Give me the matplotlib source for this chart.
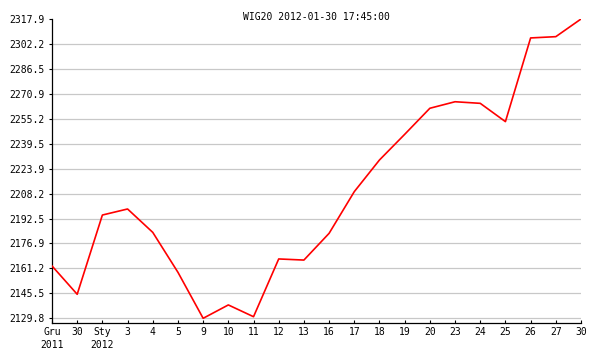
#!/usr/bin/env python3

import matplotlib
matplotlib.use('Agg')
import matplotlib.pyplot as plt
import numpy as np

TITLE = 'WIG20 2012-01-30 17:45:00'

# session days (Dec 2011 - Jan 2012)
day_labels = ['Gru\n2011', '30', 'Sty\n2012', '3', '4', '5', '9', '10', '11', '12', '13',
              '16', '17', '18', '19', '20', '23', '24', '25', '26', '27', '30']
wig20 = [2162.7, 2144.9, 2194.7, 2198.5, 2183.8, 2158.7, 2129.8, 2138.2, 2130.8, 2167.1, 2166.4,
         2183.2, 2209.4, 2229.3, 2245.4, 2261.8, 2265.9, 2264.9, 2253.4, 2306.0, 2306.8, 2317.9]
ytick_labels = ['2129.8', '2145.5', '2161.2', '2176.9', '2192.5', '2208.2', '2223.9',
                '2239.5', '2255.2', '2270.9', '2286.5', '2302.2', '2317.9']

W, H = 593, 361
fig = plt.figure(figsize=(W / 100, H / 100), dpi=100)
ax = fig.add_axes([52 / W, 1 - 323.3 / H, (581 - 52) / W, (323.3 - 19) / H])

x = np.arange(len(wig20))
ymin, ymax = min(wig20), max(wig20)
yticks = np.linspace(ymin, ymax, len(ytick_labels))

for yt in yticks[:-1]:
    ax.axhline(yt, color='#c8c8c8', linewidth=0.9, zorder=1)

ax.plot(x, wig20, color='#ff0000', linewidth=1.2, zorder=3)

ax.set_xlim(0, len(wig20) - 1)
ax.set_ylim(ymin - 5 / 1.5912, ymax)

ax.set_yticks(yticks)
ax.set_yticklabels(ytick_labels, family='DejaVu Sans Mono', fontsize=7)
ax.set_xticks(x)
ax.set_xticklabels(day_labels, family='DejaVu Sans Mono', fontsize=7, linespacing=1.35)

ax.tick_params(axis='y', direction='out', length=2.5, width=0.8, pad=2.5, colors='black')
ax.tick_params(axis='x', direction='in', length=2.5, width=0.8, pad=3, colors='black')

for s in ['top', 'right']:
    ax.spines[s].set_visible(False)
for s in ['left', 'bottom']:
    ax.spines[s].set_linewidth(0.9)
    ax.spines[s].set_color('black')

fig.text((52 + 581) / 2 / W, 1 - 17 / H, TITLE, ha='center', va='center',
         family='DejaVu Sans Mono', fontsize=7)

plt.savefig('out.png', dpi=100)
plt.close()
